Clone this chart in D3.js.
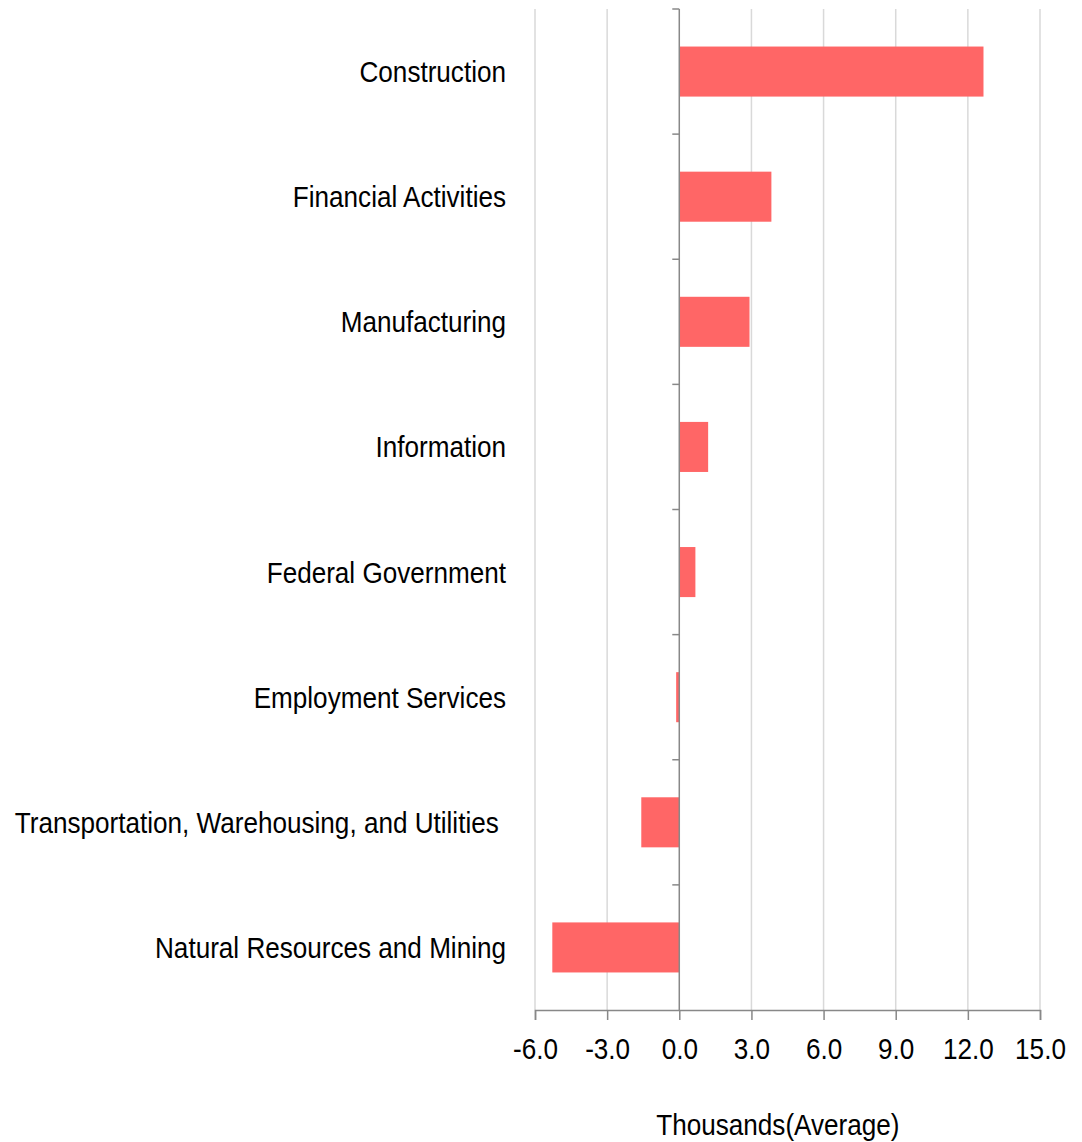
<!DOCTYPE html>
<html>
<head>
<meta charset="utf-8">
<script src="https://cdn.jsdelivr.net/npm/d3@7"></script>
<style>
  body { margin: 0; background: #fff; }
  text { font-family: "Liberation Sans Narrow", "Arial Narrow", "Liberation Sans", Arial, sans-serif; fill: #000; }
</style>
</head>
<body>
<div id="chart"></div>
<script>
// data, top to bottom
const categories = [
    "Construction",
    "Financial Activities",
    "Manufacturing",
    "Information",
    "Federal Government",
    "Employment Services",
    "Transportation, Warehousing, and Utilities ",
    "Natural Resources and Mining"
];
const values = [12.65, 3.83, 2.92, 1.2, 0.67, -0.13, -1.58, -5.28];
const xTicks = [-6, -3, 0, 3, 6, 9, 12, 15];
const xTitle = "Thousands(Average)";

const width = 1082, height = 1142;
const plot = { left: 535, right: 1040, top: 9, bottom: 1010 };
const fontSize = "30px";
const narrow = 0.87; // no narrow font installed, squeeze horizontally

const svg = d3.select("#chart")
    .append("svg")
    .attr("width", width)
    .attr("height", height);

const x = d3.scaleLinear().domain([-6, 15]).range([plot.left, plot.right]);
const y = d3.scaleBand().domain(categories).range([plot.top, plot.bottom]).paddingInner(0.6).paddingOuter(0.3);

// gridlines
svg.append("g")
    .selectAll("line")
    .data(xTicks.filter(d => d !== 0))
    .enter().append("line")
    .attr("x1", d => x(d)).attr("x2", d => x(d))
    .attr("y1", plot.top).attr("y2", plot.bottom)
    .attr("stroke", "#d9d9d9")
    .attr("stroke-width", 1.5);

// bars
svg.append("g")
    .selectAll("rect")
    .data(values)
    .enter().append("rect")
    .attr("x", d => x(Math.min(0, d)))
    .attr("width", d => Math.abs(x(d) - x(0)))
    .attr("y", (d, i) => y(categories[i]))
    .attr("height", y.bandwidth())
    .attr("fill", "#ff6666");

// vertical axis at zero with band ticks pointing left
const step = (plot.bottom - plot.top) / categories.length;
const yAxis = svg.append("g");
yAxis.append("line")
    .attr("x1", x(0)).attr("x2", x(0))
    .attr("y1", plot.top).attr("y2", plot.bottom)
    .attr("stroke", "#888").attr("stroke-width", 1.5);
yAxis.selectAll(".tk")
    .data(d3.range(categories.length))
    .enter().append("line")
    .attr("x1", x(0) - 7).attr("x2", x(0))
    .attr("y1", i => plot.top + i * step).attr("y2", i => plot.top + i * step)
    .attr("stroke", "#888").attr("stroke-width", 1.5);

// category labels
svg.append("g")
    .selectAll("text")
    .data(categories)
    .enter().append("text")
    .attr("transform", d => `translate(506,${y(d) + y.bandwidth() / 2}) scale(${narrow},1)`)
    .attr("dy", "0.35em")
    .attr("text-anchor", "end")
    .style("white-space", "pre")
    .style("font-size", fontSize)
    .text(d => d);

// bottom axis
const xAxis = svg.append("g")
    .attr("transform", `translate(0,${plot.bottom})`)
    .call(d3.axisBottom(x).tickValues(xTicks)
        .tickFormat(d => d3.format(".1f")(d).replace("\u2212", "-"))
        .tickSize(10).tickPadding(18));
xAxis.select(".domain").attr("stroke", "#888").attr("stroke-width", 1.5);
xAxis.selectAll(".tick line").attr("stroke", "#888").attr("stroke-width", 1.5);
xAxis.selectAll(".tick text")
    .attr("transform", `scale(${narrow},1)`)
    .style("font-size", fontSize)
    .style("font-family", "'Liberation Sans Narrow', 'Arial Narrow', 'Liberation Sans', sans-serif")
    .attr("fill", "#000");

svg.append("text")
    .attr("transform", `translate(${x(4.1)},1135) scale(${narrow},1)`)
    .attr("text-anchor", "middle")
    .style("font-size", fontSize)
    .text(xTitle);
</script>
</body>
</html>
